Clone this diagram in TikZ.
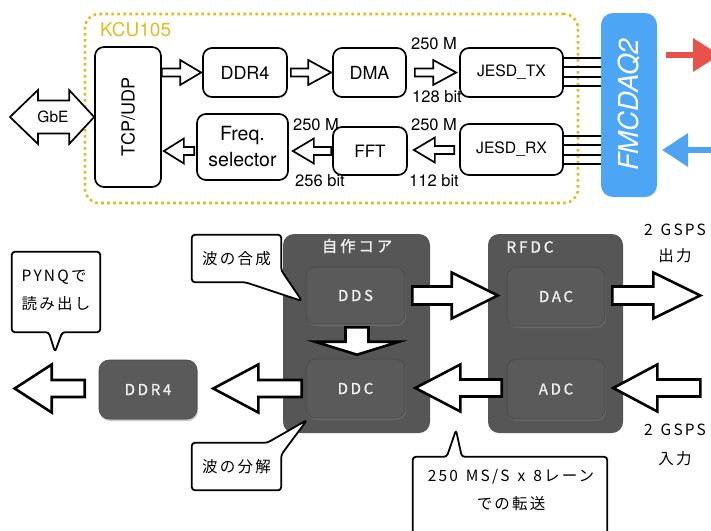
\documentclass[tikz,border=0pt]{standalone}
\usepackage{fontspec}
\setmainfont{TeX Gyre Heros}
\newfontfamily\jpfont{Noto Sans CJK JP}
\newfontfamily\jpspaced[LetterSpace=14]{Noto Sans CJK JP}
\newfontfamily\boxfont[LetterSpace=18,FakeBold=1.2]{Noto Sans CJK JP}
\usetikzlibrary{shadows,arrows.meta}

\definecolor{kcucol}{HTML}{E2BA22}
\definecolor{fmcblue}{HTML}{4DA6F5}
\definecolor{redarrow}{HTML}{E8524A}
\definecolor{bluearrow}{HTML}{4FA3F0}
\definecolor{darkbox}{HTML}{565656}
\definecolor{innerbox}{HTML}{5A5A5A}
\definecolor{boxtext}{HTML}{EEEEEE}

\newcommand{\wsp}{\hspace{8pt}}

% #2 start, #3 tip, #4 shaft half width, #5 head half width, #6 signed head length
\newcommand{\hblock}[6][smallarrow]{%
  \draw[#1] ([yshift=#4pt]#2) -- ([xshift=#6pt,yshift=#4pt]#3) -- ([xshift=#6pt,yshift=#5pt]#3) -- (#3)
   -- ([xshift=#6pt,yshift=-#5pt]#3) -- ([xshift=#6pt,yshift=-#4pt]#3) -- ([yshift=-#4pt]#2) -- cycle;}
\newcommand{\vblock}[6][bigarrow]{%
  \draw[#1] ([xshift=-#4pt]#2) -- ([xshift=-#4pt,yshift=#6pt]#3) -- ([xshift=-#5pt,yshift=#6pt]#3) -- (#3)
   -- ([xshift=#5pt,yshift=#6pt]#3) -- ([xshift=#4pt,yshift=#6pt]#3) -- ([xshift=#4pt]#2) -- cycle;}

\begin{document}
\begin{tikzpicture}[x=1pt,y=-1pt,
  fpga/.style={draw, line width=1.7pt, rounded corners=9pt, fill=white, align=center, inner sep=0pt,
    font=\fontsize{18}{20}\selectfont},
  lbl/.style={inner sep=0pt, font=\fontsize{16.5}{18}\selectfont},
  smallarrow/.style={draw, line width=1.7pt, fill=white, line join=miter},
  bigarrow/.style={draw, line width=2.6pt, fill=white, line join=miter},
  core/.style={fill=darkbox, rounded corners=11pt, inner sep=0pt},
  inner/.style={fill=innerbox, draw=black!72, line width=0.6pt, rounded corners=10pt, inner sep=0pt,
    drop shadow={shadow xshift=1pt, shadow yshift=-2pt, opacity=0.45},
    text=boxtext, font=\boxfont\fontsize{15}{17}\selectfont},
  coretitle/.style={text=boxtext, inner sep=0pt, font=\boxfont\fontsize{15.5}{17}\selectfont},
  callbox/.style={inner sep=0pt},
  callout/.style={draw, line width=1.8pt, fill=white, rounded corners=3pt, line join=round},
  jptext/.style={inner sep=0pt, align=center, font=\jpspaced\fontsize{15.5}{28}\selectfont},
  lane/.style={line width=1.4pt}
]
\useasboundingbox (0,0) rectangle (711,530);

%% ---------------- top diagram ----------------
\node[draw=kcucol, line width=2.6pt, dash pattern=on 2.6pt off 3.4pt, rounded corners=14pt,
      minimum width=493, minimum height=189, inner sep=0pt] (kcu) at (331.5,108.5) {};
\node[anchor=west, text=kcucol, inner sep=0pt, font=\fontsize{19}{21}\selectfont] (kcul) at (100,30) {KCU105};

\node[fpga, minimum width=66, minimum height=140] (tcp) at (128,117) {\rotatebox{90}{TCP/UDP}};
\node[fpga, minimum width=84, minimum height=49] (ddr4) at (245,72.5) {DDR4};
\node[fpga, minimum width=73, minimum height=49] (dma) at (369.5,72.5) {DMA};
\node[fpga, minimum width=103, minimum height=49, font=\fontsize{15.7}{18}\selectfont] (jesdtx) at (511.5,72.5) {JESD\_TX};
\node[fpga, minimum width=91, minimum height=66, font=\fontsize{19.5}{26}\selectfont] (freq) at (242.5,147) {Freq.\\selector};
\node[fpga, minimum width=74, minimum height=48, font=\fontsize{17}{20}\selectfont] (fft) at (370,151) {FFT};
\node[fpga, minimum width=103, minimum height=51, font=\fontsize{15.7}{18}\selectfont] (jesdrx) at (511.5,149.5) {JESD\_RX};

\node[fill=fmcblue, rounded corners=12pt, minimum width=56, minimum height=184, inner sep=0pt,
      text=white, font=\fontsize{27.5}{30}\selectfont\itshape] (fmc) at (629,105) {\rotatebox{90}{FMCDAQ2}};

% lanes between JESD and FMCDAQ2
\foreach \d [count=\i] in {-13.5,-4.5,5.5,14.5}{
  \path ([yshift=\d pt]jesdtx.east) coordinate (tx\i);
  \draw[lane] (tx\i) -- (tx\i -| fmc.west);
}
\foreach \d [count=\i] in {-14.5,-5.5,4.5,13.5}{
  \path ([yshift=\d pt]jesdrx.east) coordinate (rx\i);
  \draw[lane] (rx\i) -- (rx\i -| fmc.west);
}

% GbE double arrow
\coordinate (gl) at (10,117);
\draw[smallarrow] (gl) -- ([xshift=28pt,yshift=27pt]gl) -- ([xshift=28pt,yshift=16.5pt]gl)
  -- ([xshift=-25pt,yshift=16.5pt]tcp.west) -- ([xshift=-25pt,yshift=27pt]tcp.west) -- (tcp.west)
  -- ([xshift=-25pt,yshift=-27pt]tcp.west) -- ([xshift=-25pt,yshift=-16.5pt]tcp.west)
  -- ([xshift=28pt,yshift=-16.5pt]gl) -- ([xshift=28pt,yshift=-27pt]gl) -- cycle;
\node[inner sep=0pt, font=\fontsize{15.5}{17}\selectfont] (gbe) at (53,117) {GbE};

% small block arrows
\path (tcp.east |- ddr4.west) coordinate (a1s);
\path (ddr4.west) ++(-1,0) coordinate (a1t);
\hblock{a1s}{a1t}{4}{12.5}{-21}
\path (ddr4.east) ++(3,0) coordinate (a2s);
\path (dma.west) ++(-1,0) coordinate (a2t);
\hblock{a2s}{a2t}{4}{12.5}{-23}
\path (dma.east) ++(8,0) coordinate (a3s);
\path (jesdtx.west) ++(-3,0) coordinate (a3t);
\hblock{a3s}{a3t}{4}{12.5}{-23}
\path (jesdrx.west |- fft.east) ++(-5,-1) coordinate (a4s);
\path (fft.east) ++(6,-1) coordinate (a4t);
\hblock{a4s}{a4t}{4}{12.5}{21}
\path (fft.west) ++(-1,0) coordinate (a5s);
\path (freq.east |- fft.west) ++(4,0) coordinate (a5t);
\hblock{a5s}{a5t}{4}{12.5}{21}
\path (freq.west |- fft.west) ++(-2,0) coordinate (a6s);
\path (tcp.east |- fft.west) ++(2,0) coordinate (a6t);
\hblock{a6s}{a6t}{4}{12.5}{20}

\node[lbl] (l1) at (434,44) {250 M};
\node[lbl] (l2) at (437,97) {128 bit};
\node[lbl] (l3) at (434,125) {250 M};
\node[lbl] (l4) at (434,181) {112 bit};
\node[lbl] (l5) at (316,125) {250 M};
\node[lbl] (l6) at (320,181) {256 bit};

% red / blue arrows
\coordinate (rs) at (666,55);
\coordinate (rt) at (720,55);
\draw[redarrow, line width=6.5pt, -{Triangle[length=27pt,width=32pt]}] (rs) -- (rt);
\coordinate (bs) at (716,150);
\coordinate (bt) at (662,150);
\draw[bluearrow, line width=6.5pt, -{Triangle[length=26pt,width=32pt]}] (bs) -- (bt);

%% ---------------- bottom diagram ----------------
\node[core, minimum width=147, minimum height=199] (core) at (356.5,333.5) {};
\node[coretitle] (coret) at (357,246) {自作コア};
\node[core, minimum width=135, minimum height=199] (rfdc) at (555.5,333.5) {};
\node[coretitle] (rfdct) at (530,247) {RFDC};

\node[inner, minimum width=99, minimum height=57] (dds) at (355.5,295.5) {DDS};
\node[inner, minimum width=99, minimum height=59] (ddc) at (355.5,388.5) {DDC};
\node[inner, minimum width=98, minimum height=59] (dac) at (556,296.5) {DAC};
\node[inner, minimum width=98, minimum height=60] (adc) at (556,389) {ADC};
\node[inner, minimum width=98, minimum height=59] (ddrb) at (148,389.5) {DDR4};

% big block arrows
\path (dds.east) ++(7,0) coordinate (b1s);
\path (dds.east -| dac.west) ++(-9,0) coordinate (b1t);
\hblock[bigarrow]{b1s}{b1t}{9}{23}{-46}
\path (dac.east) ++(7,-1) coordinate (b2s);
\path (dac.east) ++(95,-1) coordinate (b2t);
\hblock[bigarrow]{b2s}{b2t}{9}{23}{-47}
\path (adc.east) ++(95,-1) coordinate (b3s);
\path (adc.east) ++(8,-1) coordinate (b3t);
\hblock[bigarrow]{b3s}{b3t}{8.5}{23.5}{44}
\path (adc.west) ++(-5,-1) coordinate (b4s);
\path (ddc.east |- adc.west) ++(10,-1) coordinate (b4t);
\hblock[bigarrow]{b4s}{b4t}{8.5}{23.5}{45}
\path (ddc.west) ++(-4,0) coordinate (b5s);
\path (ddrb.east |- ddc.west) ++(16,0) coordinate (b5t);
\hblock[bigarrow]{b5s}{b5t}{8.5}{24}{45}
\path (ddrb.west) ++(-14,-1) coordinate (b6s);
\path (ddrb.west) ++(-84,-1) coordinate (b6t);
\hblock[bigarrow]{b6s}{b6t}{8.5}{24}{37}
\path (dds.south) ++(1.5,3) coordinate (b7s);
\path (ddc.north) ++(1.5,-4) coordinate (b7t);
\vblock{b7s}{b7t}{11.5}{42}{13}

% side labels
\node[jptext] (o1) at (675,230) {2\wsp GSPS};
\node[jptext] (o2) at (675,256) {出力};
\node[jptext] (i1) at (675,430) {2\wsp GSPS};
\node[jptext] (i2) at (675,459) {入力};

% callouts
\node[callbox, minimum width=89, minimum height=47] (c1) at (236.5,258.5) {};
\coordinate (t1) at (302,301);
\draw[callout] (c1.north west) -- (c1.north east) -- ([yshift=12pt]c1.south east) -- (t1)
  -- ([xshift=-36pt]c1.south east) -- (c1.south west) -- cycle;
\node[jptext] (c1t) at (c1) {波の合成};

\node[callbox, minimum width=89, minimum height=47] (c2) at (236.5,466.5) {};
\coordinate (t2) at (307,420);
\draw[callout] (c2.south west) -- (c2.north west) -- ([xshift=-14pt]c2.north east) -- (t2)
  -- ([yshift=-12pt]c2.north east) -- (c2.south east) -- cycle;
\node[jptext] (c2t) at (c2) {波の分解};

\node[callbox, minimum width=88, minimum height=80] (c3) at (56,292) {};
\coordinate (t3) at (55,352);
\draw[callout] (c3.north west) -- (c3.north east) -- (c3.south east) -- ([xshift=-38pt]c3.south east)
  -- (t3) -- ([xshift=37pt]c3.south west) -- (c3.south west) -- cycle;
\node[jptext, align=left] (c3t) at (56,290) {PYNQで\\読み出し};

\node[callbox, minimum width=194, minimum height=83] (c4) at (510,498.5) {};
\coordinate (t4) at (456,430);
\draw[callout] (c4.south west) -- (c4.north west) -- ([xshift=34pt]c4.north west) -- (t4)
  -- ([xshift=49pt]c4.north west) -- (c4.north east) -- (c4.south east) -- cycle;
\node[jptext] (c4t) at (511,490) {250\wsp MS/S\wsp x\wsp 8レーン\\での転送};

\end{tikzpicture}
\end{document}
